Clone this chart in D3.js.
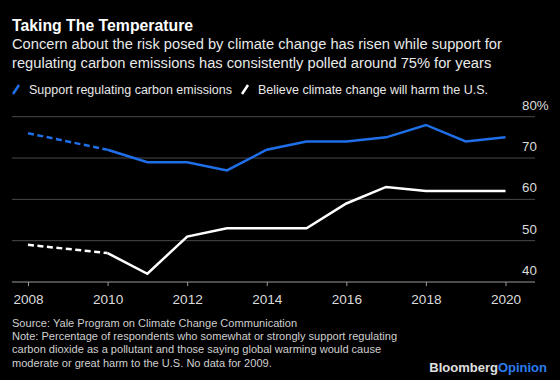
<!DOCTYPE html>
<html>
<head>
<meta charset="utf-8">
<script src="https://cdn.jsdelivr.net/npm/d3@7"></script>
<style>
  html, body { margin: 0; padding: 0; background: #000; }
  svg { display: block; font-family: "Liberation Sans", Arial, sans-serif; }
</style>
</head>
<body>
<div id="chart"></div>
<script>
// data (No data for 2009)
const years = [2008, 2010, 2011, 2012, 2013, 2014, 2015, 2016, 2017, 2018, 2019, 2020]
const support = [76, 72, 69, 69, 67, 72, 74, 74, 75, 78, 74, 75]
const harm = [49, 47, 42, 51, 53, 53, 53, 59, 63, 62, 62, 62]
const yTicks = [40, 50, 60, 70, 80]
const xTicks = [2008, 2010, 2012, 2014, 2016, 2018, 2020]
const seriesNames = ['Support regulating carbon emissions', 'Believe climate change will harm the U.S.']

const W = 560
const H = 380
const c_blue = '#1f6fe8'
const c_white = '#ffffff'
const c_grid = '#4a4a4a'

const svg = d3.select('#chart')
  .append('svg')
  .attr('width', W)
  .attr('height', H)

svg.append('rect')
  .attr('width', W)
  .attr('height', H)
  .attr('fill', '#000')

// headings
svg.append('text')
  .text('Taking The Temperature')
  .attr('x', 12)
  .attr('y', 31)
  .attr('fill', '#fff')
  .style('font-size', '15.8px')
  .style('font-weight', 'bold')

const sub = ['Concern about the risk posed by climate change has risen while support for',
  'regulating carbon emissions has consistently polled around 75% for years']
svg.selectAll('.sub')
  .data(sub)
  .enter()
  .append('text')
  .classed('sub', true)
  .text((d) => d)
  .attr('x', 12)
  .attr('y', (d, i) => 49 + i * 19)
  .attr('fill', '#e8e8e8')
  .style('font-size', '14.7px')

// legend
const legendX = [13, 242]
const legendColors = [c_blue, c_white]
const lg = svg.selectAll('.legend')
  .data(seriesNames)
  .enter()
  .append('g')
  .classed('legend', true)
  .attr('transform', (d, i) => `translate(${legendX[i]},0)`)
lg.append('line')
  .attr('x1', 0).attr('y1', 94)
  .attr('x2', 6).attr('y2', 85)
  .attr('stroke', (d, i) => legendColors[i])
  .attr('stroke-width', 2.5)
lg.append('text')
  .text((d) => d)
  .attr('x', 16)
  .attr('y', 93.5)
  .attr('fill', '#e8e8e8')
  .style('font-size', '12.5px')

// scales
const x = d3.scaleLinear().domain([2008, 2020]).range([28, 505.5])
const y = d3.scaleLinear().domain([40, 80]).range([282, 116.7])

const gridL = 12
const gridR = 535

// gridlines
svg.selectAll('.grid')
  .data(yTicks.slice(1))
  .enter()
  .append('line')
  .classed('grid', true)
  .attr('x1', gridL).attr('x2', gridR)
  .attr('y1', (d) => y(d)).attr('y2', (d) => y(d))
  .attr('stroke', c_grid)
  .attr('stroke-width', 1)

// y labels sit above their gridline
svg.selectAll('.ylab')
  .data(yTicks)
  .enter()
  .append('text')
  .classed('ylab', true)
  .text((d) => d === 80 ? '80%' : d)
  .attr('x', 522)
  .attr('y', (d) => y(d) - 7)
  .attr('fill', '#dcdcdc')
  .style('font-size', '13.3px')

// x axis
const xAxis = d3.axisBottom(x)
  .tickValues(xTicks)
  .tickFormat(d3.format('d'))
  .tickSize(4)
  .tickPadding(8)

const gx = svg.append('g')
  .attr('transform', `translate(0,${y(40)})`)
  .call(xAxis)
gx.select('.domain').remove()
gx.selectAll('line').attr('stroke', '#9a9a9a')
gx.selectAll('text')
  .attr('fill', '#dcdcdc')
  .style('font-size', '13.6px')
  .style('font-family', '"Liberation Sans", Arial, sans-serif')

svg.append('line')
  .attr('x1', gridL).attr('x2', gridR)
  .attr('y1', y(40)).attr('y2', y(40))
  .attr('stroke', '#9a9a9a')
  .attr('stroke-width', 1)

// lines: dashed across missing 2009, solid after
const line = d3.line()
  .x((d) => x(d[0]))
  .y((d) => y(d[1]))

function drawSeries (values, color) {
  const pts = years.map((yr, i) => [yr, values[i]])
  svg.append('path')
    .attr('d', line(pts.slice(0, 2)))
    .attr('fill', 'none')
    .attr('stroke', color)
    .attr('stroke-width', 2.5)
    .attr('stroke-dasharray', '6,3.5')
  svg.append('path')
    .attr('d', line(pts.slice(1)))
    .attr('fill', 'none')
    .attr('stroke', color)
    .attr('stroke-width', 2.5)
    .attr('stroke-linejoin', 'miter')
}
drawSeries(support, c_blue)
drawSeries(harm, c_white)

// footnote
const notes = ['Source: Yale Program on Climate Change Communication',
  'Note: Percentage of respondents who somewhat or strongly support regulating',
  'carbon dioxide as a pollutant and those saying global warming would cause',
  'moderate or great harm to the U.S. No data for 2009.']
svg.selectAll('.note')
  .data(notes)
  .enter()
  .append('text')
  .classed('note', true)
  .text((d) => d)
  .attr('x', 12)
  .attr('y', (d, i) => 327 + i * 13.2)
  .attr('fill', '#cfcfcf')
  .style('font-size', '11.05px')

// logo
const logo = svg.append('text')
  .attr('x', 547)
  .attr('y', 372)
  .attr('text-anchor', 'end')
  .style('font-size', '13px')
  .style('font-weight', 'bold')
logo.append('tspan').text('Bloomberg').attr('fill', '#e0e0e0')
logo.append('tspan').text('Opinion').attr('fill', '#2b7cf0')
</script>
</body>
</html>
